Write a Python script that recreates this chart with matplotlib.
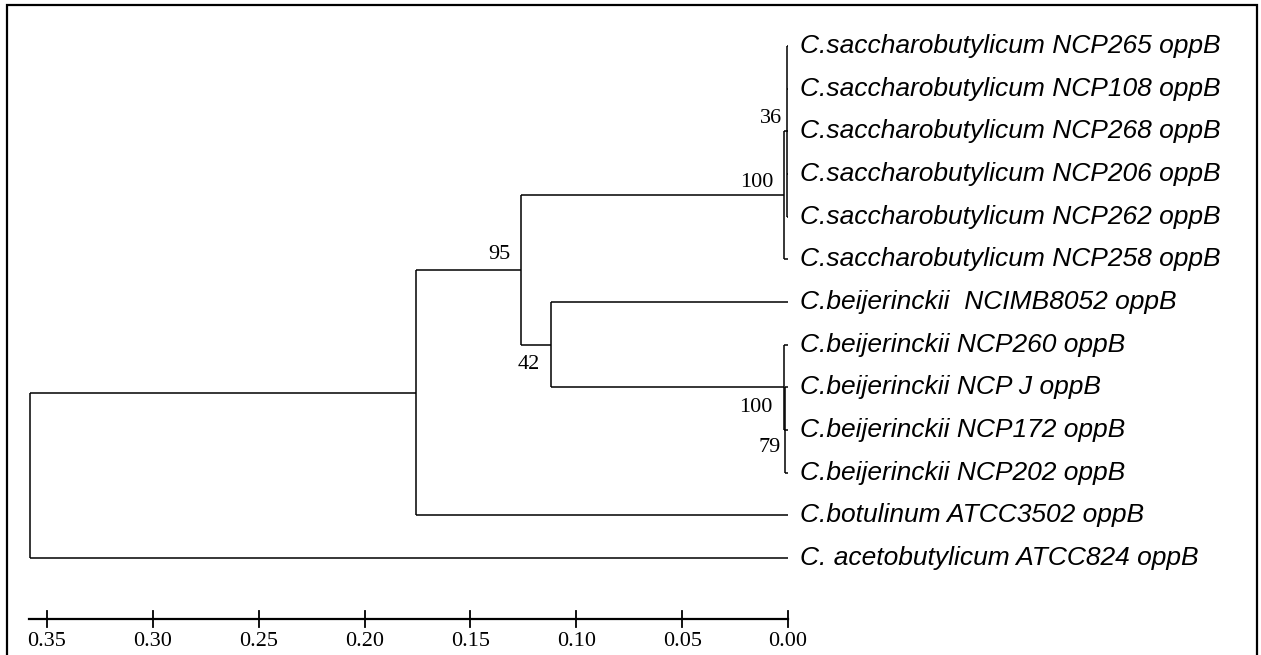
import matplotlib.pyplot as plt
from matplotlib.patches import Rectangle

# leaf taxa, top to bottom
leaves = [
    "C.saccharobutylicum NCP265 oppB",
    "C.saccharobutylicum NCP108 oppB",
    "C.saccharobutylicum NCP268 oppB",
    "C.saccharobutylicum NCP206 oppB",
    "C.saccharobutylicum NCP262 oppB",
    "C.saccharobutylicum NCP258 oppB",
    "C.beijerinckii  NCIMB8052 oppB",
    "C.beijerinckii NCP260 oppB",
    "C.beijerinckii NCP J oppB",
    "C.beijerinckii NCP172 oppB",
    "C.beijerinckii NCP202 oppB",
    "C.botulinum ATCC3502 oppB",
    "C. acetobutylicum ATCC824 oppB",
]

# internal nodes: name -> (height, children); ints are leaf indices
nodes = {
    "sac36": (0.0007, [0, 1, 2, 3, 4]),
    "sac100": (0.0017, ["sac36", 5]),
    "bei79": (0.0012, [8, 9, 10]),
    "bei100": (0.0020, [7, "bei79"]),
    "n42": (0.1120, [6, "bei100"]),
    "n95": (0.1261, ["sac100", "n42"]),
    "n1": (0.1757, ["n95", 11]),
    "root": (0.358, ["n1", 12]),
}

bootstrap = {"sac36": 36, "sac100": 100, "n95": 95, "n42": 42,
             "bei100": 100, "bei79": 79}
# label offsets in pixels (dx, dy down)
boot_off = {"sac36": (-4, -13), "sac100": (-11, -13), "n95": (-11, -16),
            "n42": (-11, 20), "bei100": (-11, 20), "bei79": (-5, 17)}

scale_ticks = [0.35, 0.30, 0.25, 0.20, 0.15, 0.10, 0.05, 0.00]

fig = plt.figure(figsize=(12.61, 6.55), dpi=100)
ax = fig.add_axes([0, 0, 1, 1])
ax.set_xlim(0.3722, -0.2234)
ax.set_ylim(14.27, -1.078)
ax.axis("off")

lw = 1.1
pos = {}


def draw(name):
    if isinstance(name, int):
        return name, 0.0
    h, children = nodes[name]
    ys = []
    for c in children:
        cy, ch = draw(c)
        ax.plot([h, ch], [cy, cy], color="black", lw=lw, solid_capstyle="butt")
        ys.append(cy)
    y = (ys[0] + ys[-1]) / 2
    ax.plot([h, h], [ys[0], ys[-1]], color="black", lw=lw, solid_capstyle="butt")
    pos[name] = (h, y)
    return y, h


draw("root")

for i, lab in enumerate(leaves):
    ax.annotate(lab, (0, i), xytext=(8.5, 0), textcoords="offset points",
                ha="left", va="center", fontsize=19, style="italic",
                family="Liberation Sans")

for k, v in bootstrap.items():
    dx, dy = boot_off[k]
    ax.annotate(str(v), pos[k], xytext=(dx * 0.72, -dy * 0.72),
                textcoords="offset points", ha="right", va="center",
                fontsize=16, family="Liberation Serif")

# scale bar
bar_y = 13.43
ax.plot([0.3585, 0.0], [bar_y, bar_y], color="black", lw=1.6)
for t in scale_ticks:
    ax.plot([t, t], [bar_y - 0.19, bar_y + 0.19], color="black", lw=1.3)
    ax.text(t, 13.95, f"{t:.2f}", ha="center", va="center",
            fontsize=16, family="Liberation Serif")

fig.add_artist(Rectangle((7 / 1261, -0.02), 1250 / 1261, 1 - 5 / 655 + 0.02,
                         transform=fig.transFigure, fill=False,
                         edgecolor="black", lw=1.6))

fig.savefig("out.png", dpi=100)
